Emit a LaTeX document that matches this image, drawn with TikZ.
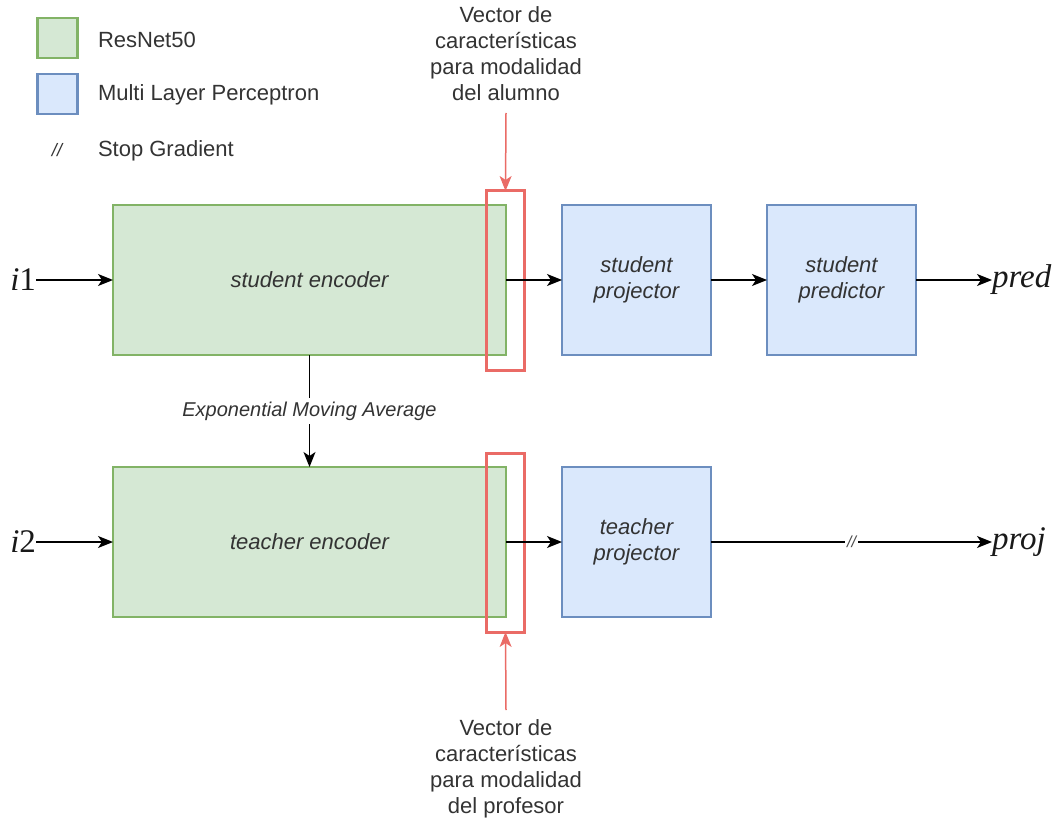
\documentclass[tikz,border=0pt]{standalone}
\usepackage{fontspec}
\setmainfont{Liberation Sans}
\newfontfamily\lblfont{Liberation Serif}
\usetikzlibrary{arrows.meta}
\definecolor{encfill}{HTML}{D5E8D4}
\definecolor{encdraw}{HTML}{82B366}
\definecolor{mlpfill}{HTML}{DAE8FC}
\definecolor{mlpdraw}{HTML}{6C8EBF}
\definecolor{vecred}{HTML}{EA6B66}
\begin{document}
\begin{tikzpicture}[x=1pt,y=-1pt,
  every node/.style={inner sep=0pt,outer sep=0pt},
  txt/.style={font=\fontsize{22}{26}\selectfont,text=black!80},
  enc/.style={draw=encdraw,fill=encfill,line width=1.2pt,minimum width=393pt,minimum height=150pt,
    font=\fontsize{22}{26}\selectfont\itshape,text=black!80},
  mlp/.style={draw=mlpdraw,fill=mlpfill,line width=1.2pt,minimum width=149pt,minimum height=150pt,
    font=\fontsize{22}{26}\selectfont\itshape,text=black!80,align=center},
  vecbox/.style={draw=vecred,line width=3pt,minimum width=38pt,minimum height=179pt},
  flow/.style={draw=black,line width=1.5pt,-{Stealth[length=15pt,width=12pt,inset=4pt]}},
  redflow/.style={draw=vecred,line width=1.5pt,-{Stealth[length=15pt,width=12pt,inset=4pt]}},
  mathlbl/.style={font=\lblfont\fontsize{33}{36}\selectfont,text=black!90}
]
\useasboundingbox (0,0) rectangle (1063,818);

% legend
\node[draw=encdraw,fill=encfill,line width=2.5pt,minimum width=40pt,minimum height=40pt] (lg1) at (57.5,38) {};
\node[draw=mlpdraw,fill=mlpfill,line width=2.5pt,minimum width=40pt,minimum height=40pt] (lg2) at (57.5,94) {};
\node[txt,anchor=west] (lt1) at (98,40) {ResNet50};
\node[txt,anchor=west] (lt2) at (98,95) {Multi Layer Perceptron};
\node[font=\fontsize{18}{20}\selectfont\itshape,text=black!80] (lt3s) at (57,150) {//};
\node[txt,anchor=west] (lt3) at (98,151) {Stop Gradient};

% encoders and heads
\node[enc] (se) at (309.5,280) {student encoder};
\node[enc] (te) at (309.5,542) {teacher encoder};
\node[mlp] (sp) at (636.5,280) {student\\projector};
\node[mlp] (spr) at (841.5,280) {student\\predictor};
\node[mlp] (tp) at (636.5,542) {teacher\\projector};

% feature vector markers
\node[vecbox] (sv) at (505.5,280.5) {};
\node[vecbox] (tv) at (505.5,542.5) {};

% inputs and outputs
\node[mathlbl,anchor=east] (i1) at (36,280) {\textit{i}1};
\node[mathlbl,anchor=east] (i2) at (36,542) {\textit{i}2};
\node[mathlbl,anchor=west] (pred) at (992,280) {\textit{pred}};
\node[mathlbl,anchor=west] (proj) at (992,542) {\textit{proj}};

\draw[flow] (i1.east) -- (se.west);
\draw[flow] (i2.east) -- (te.west);
\draw[flow] (se.east) -- (sp.west);
\draw[flow] (sp.east) -- (spr.west);
\draw[flow] (spr.east) -- (pred.west);
\draw[flow] (te.east) -- (tp.west);
\draw[flow] (tp.east) -- node[fill=white,inner xsep=2pt,inner ysep=3pt,font=\fontsize{16}{18}\selectfont\itshape,text=black!70] (sg) {//} (proj.west);

% momentum update
\draw[flow] (se.south) -- node[fill=white,inner sep=4pt,font=\fontsize{20}{24}\selectfont\itshape,text=black!80] (ema) {Exponential Moving Average} (te.north);

% annotations
\node[txt,align=center,anchor=north] (note1) at (506,7) {Vector de\\características\\para modalidad\\del alumno};
\node[txt,align=center,anchor=south] (note2) at (506,818) {Vector de\\características\\para modalidad\\del profesor};
\coordinate (n1) at (506,113);
\coordinate (n2) at (506,710);
\draw[redflow] (n1) -- (sv.north);
\draw[redflow] (n2) -- (tv.south);
\end{tikzpicture}
\end{document}
